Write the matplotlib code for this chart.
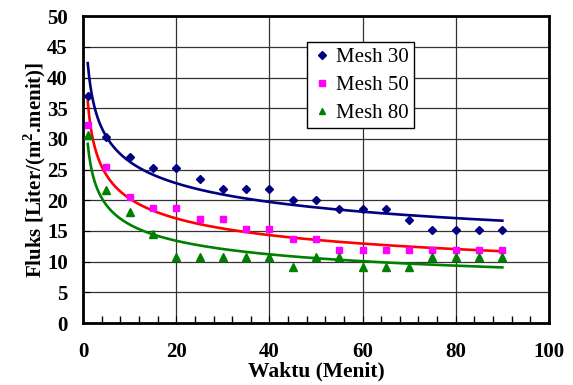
import numpy as np
import matplotlib
matplotlib.use('Agg')
import matplotlib.pyplot as plt
from matplotlib.ticker import MultipleLocator

# waktu (menit)
waktu = [1, 5, 10, 15, 20, 25, 30, 35, 40, 45, 50, 55, 60, 65, 70, 75, 80, 85, 90]

# fluks per mesh
mesh30 = [37.0, 30.3, 27.0, 25.2, 25.2, 23.5, 21.8, 21.8, 21.8, 20.1, 20.1,
          18.5, 18.5, 18.5, 16.8, 15.2, 15.2, 15.2, 15.2]
mesh50 = [32.3, 25.5, 20.5, 18.7, 18.7, 17.0, 17.0, 15.3, 15.3, 13.7, 13.7,
          11.9, 11.9, 11.9, 11.9, 11.9, 11.9, 11.9, 11.9]
mesh80 = [30.7, 21.7, 18.1, 14.5, 10.8, 10.8, 10.8, 10.8, 10.8, 9.1, 10.8,
          10.8, 9.2, 9.2, 9.2, 10.8, 10.8, 10.8, 10.8]

labels = ['Mesh 30', 'Mesh 50', 'Mesh 80']

plt.rcParams['font.family'] = ['Liberation Serif', 'DejaVu Serif']
plt.rcParams['mathtext.fontset'] = 'custom'
plt.rcParams['mathtext.bf'] = 'Liberation Serif:bold'
plt.rcParams['mathtext.rm'] = 'Liberation Serif'

fig = plt.figure(figsize=(5.73, 3.85), dpi=100)
ax = fig.add_axes([0.145, 0.161, 0.813, 0.797])

series = [
    (mesh30, 'D', '#000080', '#000080', 4.3),
    (mesh50, 's', '#FF00FF', '#FF0000', 4.6),
    (mesh80, '^', '#008000', '#008000', 5.2),
]

x = np.array(waktu, dtype=float)
xx = np.linspace(1, 90, 300)
for (y, mk, mc, lc, ms), lab in zip(series, labels):
    y = np.array(y)
    # power trendline (like excel): ln y = ln a + b ln x
    b, lna = np.polyfit(np.log(x), np.log(y), 1)
    ax.plot(xx, np.exp(lna) * xx ** b, color=lc, lw=1.9, zorder=3)
    ax.plot(x, y, linestyle='none', marker=mk, color=mc, markersize=ms,
            label=lab, zorder=4, clip_on=False)

ax.set_xlim(0, 100)
ax.set_ylim(0, 50)
ax.xaxis.set_major_locator(MultipleLocator(20))
ax.xaxis.set_minor_locator(MultipleLocator(4))
ax.yaxis.set_major_locator(MultipleLocator(5))
ax.grid(True, which='major', color='#333333', lw=0.9)
ax.set_axisbelow(True)
for s in ax.spines.values():
    s.set_linewidth(2)
ax.tick_params(which='both', direction='in', labelsize=15)
ax.tick_params(which='major', length=5)
ax.tick_params(which='minor', length=5, width=1)
ax.tick_params(axis='x', pad=14)
ax.tick_params(axis='y', pad=11)
for t in ax.get_xticklabels() + ax.get_yticklabels():
    t.set_fontweight('bold')

ax.set_xlabel('Waktu (Menit)', fontsize=15.5, fontweight='bold', labelpad=-1)
ax.set_ylabel(r'Fluks [Liter/(m$^\mathbf{2}$.menit)]', fontsize=15,
              fontweight='bold', labelpad=-1)

leg = ax.legend(loc='upper left', bbox_to_anchor=(0.48, 0.915), fontsize=15,
                frameon=True, fancybox=False, edgecolor='black',
                handletextpad=0.15, handlelength=1.0, borderpad=0.25,
                labelspacing=0.4, markerscale=0.85, borderaxespad=0)
leg.get_frame().set_linewidth(1)
leg.get_frame().set_alpha(1)

fig.savefig('out.png', dpi=100)
